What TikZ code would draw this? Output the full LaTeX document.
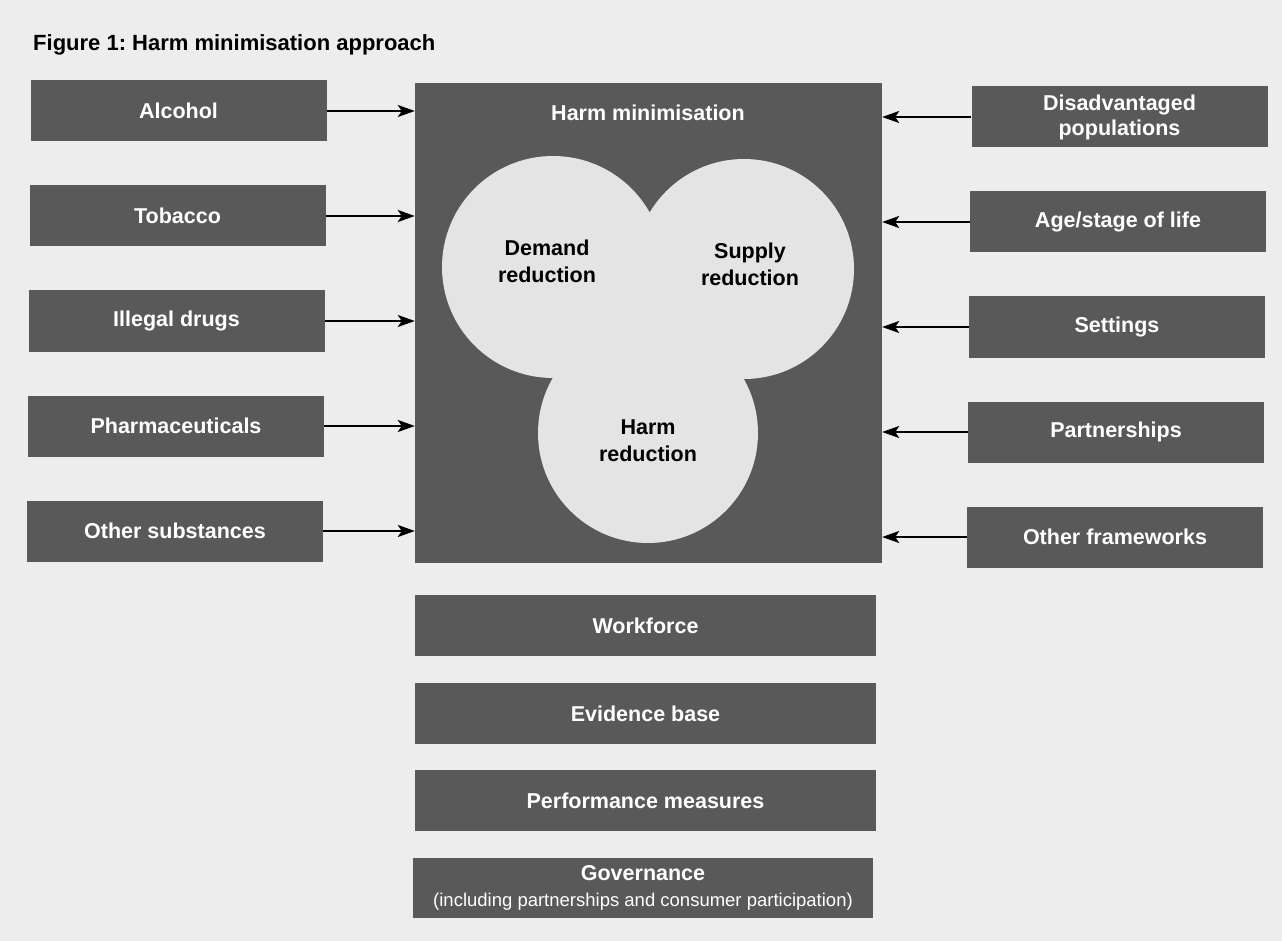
\documentclass[tikz,border=0pt]{standalone}
\usepackage{fontspec}
\setmainfont{Liberation Sans}
\usetikzlibrary{arrows.meta}
\frenchspacing
\begin{document}
\begin{tikzpicture}[x=1pt,y=-1pt,
  dark/.style={fill=boxgray,draw=none,inner sep=0pt,text=white,font=\fontsize{21.5}{25}\selectfont\bfseries,align=center},
  sidebox/.style={dark,minimum width=296pt,minimum height=61pt},
  lowbox/.style={dark,minimum width=461pt,minimum height=61pt},
  blob/.style={circle,fill=blobgray,draw=none,inner sep=0pt},
  blabel/.style={font=\fontsize{21.5}{27}\selectfont\bfseries,align=center,text=black},
  arr/.style={-{Stealth[length=17pt,width=12pt,inset=4pt]},line width=2pt,black}]
\definecolor{boxgray}{HTML}{595959}
\definecolor{blobgray}{HTML}{E4E4E4}
\definecolor{bggray}{HTML}{EDEDED}
\fill[bggray] (0,0) rectangle (1282,941);
\useasboundingbox (0,0) rectangle (1282,941);
\node[anchor=base west,font=\fontsize{22}{24}\selectfont\bfseries,inner sep=0pt] (title) at (33,51) {Figure 1: Harm minimisation approach};
% central box
\node[fill=boxgray,draw=none,minimum width=467pt,minimum height=480pt,inner sep=0pt] (hm) at (648.5,323) {};
\node[blob,minimum size=222pt] (dem) at (553,267) {};
\node[blob,minimum size=220pt] (sup) at (744,269) {};
\node[blob,minimum size=220pt] (hr) at (648,433) {};
\node[dark,fill=none] (hmt) at (648,113) {Harm minimisation};
\node[blabel] (demt) at (547,261) {Demand\\reduction};
\node[blabel] (supt) at (750,264) {Supply\\reduction};
\node[blabel] (hrt) at (648,441) {Harm\\reduction};
% left boxes
\node[sidebox] (alc) at (178.5,111) {Alcohol};
\node[sidebox] (tob) at (177.5,216) {Tobacco};
\node[sidebox] (ill) at (176.5,321) {Illegal drugs};
\node[sidebox] (pha) at (176,426) {Pharmaceuticals};
\node[sidebox] (oth) at (175,531) {Other substances};
% right boxes
\node[sidebox] (dis) at (1119.5,117) {Disadvantaged\\populations};
\node[sidebox] (age) at (1118,222) {Age/stage of life};
\node[sidebox] (set) at (1117,327) {Settings};
\node[sidebox] (par) at (1116,432) {Partnerships};
\node[sidebox] (ofw) at (1115,537) {Other frameworks};
% arrows
\foreach \n in {alc,tob,ill,pha,oth} \draw[arr] (\n.east) -- (\n.east -| hm.west);
\foreach \n in {dis,age,set,par,ofw} \draw[arr] (\n.west) -- (\n.west -| hm.east);
% lower boxes
\node[lowbox] (wf) at (645.5,625.5) {Workforce};
\node[lowbox] (eb) at (645.5,713.5) {Evidence base};
\node[lowbox] (pm) at (645.5,800.5) {Performance measures};
\node[lowbox,minimum width=460pt,minimum height=60pt] (gov) at (643,888) {Governance\\[1pt]{\fontsize{18.5}{22}\selectfont\mdseries (including partnerships and consumer participation)}};
\end{tikzpicture}
\end{document}
